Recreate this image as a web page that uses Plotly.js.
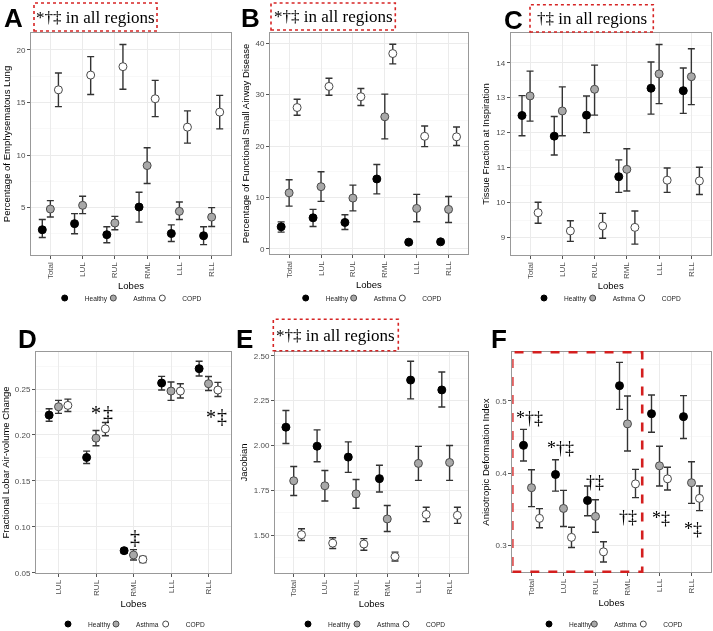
<!DOCTYPE html>
<html><head><meta charset="utf-8">
<script src="https://cdn.plot.ly/plotly-3.0.1.min.js"></script>
<style>html,body{margin:0;padding:0;background:#fff}#chart{width:713px;height:631px}#chart svg{will-change:transform}</style>
</head><body><div id="chart"></div>
<script>
// ---------- data ----------
const lobes6 = ['Total','LUL','RUL','RML','LLL','RLL'];
const lobes5 = ['LUL','RUL','RML','LLL','RLL'];
const groups = ['Healthy','Asthma','COPD'];

// A: Percentage of Emphysematous Lung
const emphH = [2.9, 3.48, 2.43, 5.06, 2.54, 2.33];
const emphHlo = [2.17, 2.52, 1.67, 3.62, 1.78, 1.49];
const emphHhi = [3.88, 4.43, 3.19, 6.46, 3.36, 3.19];
const emphA = [4.87, 5.22, 3.54, 9.0, 4.65, 4.1];
const emphAlo = [4.11, 4.43, 2.9, 7.3, 3.88, 3.21];
const emphAhi = [5.67, 6.08, 4.17, 10.7, 5.54, 5.0];
const emphC = [16.2, 17.6, 18.4, 15.35, 12.65, 14.08];
const emphClo = [14.6, 15.75, 16.25, 13.65, 11.13, 12.49];
const emphChi = [17.8, 19.35, 20.5, 17.1, 14.2, 15.67];

// B: Percentage of Functional Small Airway Disease
const fsadH = [4.29, 6.04, 5.14, 13.6, 1.3, 1.37];
const fsadHlo = [3.25, 4.36, 3.78, 10.7, 1.0, 1.07];
const fsadHhi = [5.26, 7.68, 6.63, 16.4, 1.6, 1.67];
const fsadA = [10.9, 12.1, 9.88, 25.7, 7.87, 7.68];
const fsadAlo = [8.32, 9.24, 7.4, 21.4, 5.27, 5.14];
const fsadAhi = [13.45, 15.0, 12.4, 30.1, 10.6, 10.2];
const fsadC = [27.5, 31.6, 29.6, 38.0, 21.9, 21.8];
const fsadClo = [26.0, 29.9, 27.9, 36.0, 19.9, 20.1];
const fsadChi = [29.1, 33.2, 31.2, 39.8, 23.9, 23.7];

// C: Tissue Fraction at Inspiration
const tfH = [12.49, 11.9, 12.5, 10.74, 13.27, 13.2];
const tfHlo = [11.91, 11.36, 12.0, 10.29, 12.53, 12.55];
const tfHhi = [13.06, 12.46, 13.05, 11.22, 14.02, 13.85];
const tfA = [13.05, 12.62, 13.24, 10.95, 13.68, 13.6];
const tfAlo = [12.33, 11.91, 12.5, 10.33, 12.83, 12.8];
const tfAhi = [13.76, 13.31, 13.93, 11.54, 14.52, 14.4];
const tfC = [9.71, 9.19, 9.33, 9.29, 10.64, 10.62];
const tfClo = [9.41, 8.89, 8.98, 8.81, 10.29, 10.23];
const tfChi = [10.01, 9.48, 9.69, 9.76, 10.99, 11.01];

// D: Fractional Lobar Air-volume Change
const flacH = [0.2216, 0.1755, 0.074, 0.2565, 0.2722];
const flacHlo = [0.215, 0.1689, 0.0711, 0.249, 0.2642];
const flacHhi = [0.2285, 0.1824, 0.0765, 0.2638, 0.2802];
const flacA = [0.2307, 0.1965, 0.0693, 0.2478, 0.2558];
const flacAlo = [0.2235, 0.1882, 0.0638, 0.2376, 0.2484];
const flacAhi = [0.2376, 0.2049, 0.0751, 0.2576, 0.2636];
const flacC = [0.2322, 0.2067, 0.0645, 0.2478, 0.2489];
const flacClo = [0.2256, 0.1991, 0.0611, 0.2402, 0.2419];
const flacChi = [0.239, 0.2136, 0.0676, 0.2558, 0.2572];

// E: Jacobian
const jacH = [2.102, 1.996, 1.935, 1.815, 2.365, 2.31];
const jacHlo = [2.011, 1.909, 1.85, 1.74, 2.26, 2.215];
const jacHhi = [2.195, 2.087, 2.02, 1.89, 2.47, 2.41];
const jacA = [1.803, 1.775, 1.73, 1.59, 1.9, 1.905];
const jacAlo = [1.721, 1.69, 1.65, 1.52, 1.805, 1.805];
const jacAhi = [1.883, 1.86, 1.81, 1.665, 1.995, 2.0];
const jacC = [1.502, 1.455, 1.45, 1.38, 1.615, 1.61];
const jacClo = [1.47, 1.425, 1.415, 1.355, 1.575, 1.565];
const jacChi = [1.535, 1.485, 1.48, 1.405, 1.655, 1.655];

// F: Anisotropic Deformation Index
const adiH = [0.4383, 0.398, 0.362, 0.5208, 0.482, 0.478];
const adiHlo = [0.4166, 0.375, 0.341, 0.488, 0.4563, 0.4478];
const adiHhi = [0.4604, 0.4184, 0.382, 0.553, 0.508, 0.507];
const adiA = [0.3797, 0.351, 0.340, 0.468, 0.41, 0.3866];
const adiAlo = [0.3535, 0.326, 0.318, 0.4304, 0.382, 0.358];
const adiAhi = [0.4045, 0.376, 0.363, 0.5065, 0.437, 0.4156];
const adiC = [0.3373, 0.311, 0.291, 0.385, 0.392, 0.365];
const adiClo = [0.3244, 0.297, 0.277, 0.366, 0.3765, 0.348];
const adiChi = [0.3507, 0.325, 0.305, 0.405, 0.408, 0.382];

const yTitles = ['Percentage of Emphysematous Lung','Percentage of Functional Small Airway Disease',
  'Tissue Fraction at Inspiration','Fractional Lobar Air-volume Change','Jacobian','Anisotropic Deformation Index'];

// ---------- build ----------
const W = 713, H = 631;
const markerStyle = {
  Healthy: {color:'#000', line:{color:'#000', width:1}},
  Asthma: {color:'#a8a8a8', line:{color:'#4a4a4a', width:1}},
  COPD: {color:'#fff', line:{color:'#4a4a4a', width:1}}
};
const dodge = {Healthy:-0.25, Asthma:0, COPD:0.25};
const legShift = [-7, -4, -1];

const panels = [
  {cats:lobes6, s:[[emphH,emphHlo,emphHhi],[emphA,emphAlo,emphAhi],[emphC,emphClo,emphChi]],
   px:[31,231,33,255], range:[0.5,21.6], dtick:5, minor:2.5, fmt:'', leg:[71.7,117.3,163.3], legY:298},
  {cats:lobes6, s:[[fsadH,fsadHlo,fsadHhi],[fsadA,fsadAlo,fsadAhi],[fsadC,fsadClo,fsadChi]],
   px:[270,467.7,33,254], range:[-1.0,42.0], dtick:10, minor:5, fmt:'', leg:[312.7,357.7,403.3], legY:298},
  {cats:lobes6, s:[[tfH,tfHlo,tfHhi],[tfA,tfAlo,tfAhi],[tfC,tfClo,tfChi]],
   px:[510.7,710.7,33,255], range:[8.5,14.85], dtick:1, minor:0.5, fmt:'', leg:[551,596.7,642.7], legY:298},
  {cats:lobes5, s:[[flacH,flacHlo,flacHhi],[flacA,flacAlo,flacAhi],[flacC,flacClo,flacChi]],
   px:[36,231,352.3,572.7], range:[0.05,0.29], dtick:0.05, minor:0.025, fmt:'.2f', leg:[75,120,166.7], legY:624},
  {cats:lobes6, s:[[jacH,jacHlo,jacHhi],[jacA,jacAlo,jacAhi],[jacC,jacClo,jacChi]],
   px:[275,468.3,352.3,572.7], range:[1.29,2.52], dtick:0.25, minor:0.125, fmt:'.2f', leg:[315,361,407], legY:624},
  {cats:lobes6, s:[[adiH,adiHlo,adiHhi],[adiA,adiAlo,adiAhi],[adiC,adiClo,adiChi]],
   px:[512.3,710.7,352.3,571.7], range:[0.2635,0.567], dtick:0.1, minor:0.05, fmt:'.1f', leg:[556,598.3,644.3], legY:624}
];

const traces = [];
const layout = {
  width:W, height:H, margin:{l:0,r:0,t:0,b:0,autoexpand:false}, paper_bgcolor:'#fff', plot_bgcolor:'#fff',
  font:{family:'Liberation Sans, Arial, sans-serif', color:'#000'},
  annotations:[], shapes:[]
};

let legCount = 0;
panels.forEach((p, k) => {
  const n = k + 1;
  const xs = n === 1 ? 'x' : 'x' + n, ys = n === 1 ? 'y' : 'y' + n;
  groups.forEach((g, gi) => {
    const [v, lo, hi] = p.s[gi];
    traces.push({
      type:'scatter', mode:'markers', name:g, xaxis:xs, yaxis:ys, showlegend:false,
      x: p.cats.map((c, i) => i + dodge[g]), y: v,
      marker: Object.assign({size:8, symbol:'circle'}, markerStyle[g]),
      error_y: {type:'data', symmetric:false, array: hi.map((h, i) => h - v[i]),
                arrayminus: lo.map((l, i) => v[i] - l), color:'#333', thickness:1.4, width:3.5},
      hoverinfo:'skip'
    });
    // legend key (no data drawn)
    legCount++;
    const legName = legCount === 1 ? 'legend' : 'legend' + legCount;
    traces.push({
      type:'scatter', mode:'markers', name:g, xaxis:xs, yaxis:ys, legend:legName, showlegend:true,
      x:[null], y:[null], marker: Object.assign({size:6, symbol:'circle'}, markerStyle[g]), hoverinfo:'skip'
    });
    layout[legName] = {
      x:(p.leg[gi] + legShift[gi] - 20) / W, xanchor:'left', y:1 - p.legY / H, yanchor:'middle',
      font:{size:6.6, color:'#222'}, itemwidth:30, bgcolor:'rgba(0,0,0,0)', borderwidth:0
    };
  });
  const [x0, x1, y0, y1] = p.px;
  layout['xaxis' + (n === 1 ? '' : n)] = {
    domain:[x0 / W, x1 / W], anchor: ys, range:[-0.6, p.cats.length - 0.4],
    tickmode:'array', tickvals: p.cats.map((c, i) => i), ticktext: p.cats, tickangle:-90,
    tickfont:{size:8, color:'#4d4d4d'}, ticks:'outside', ticklen:3, tickcolor:'#555',
    showgrid:true, gridcolor:'#ebebeb', gridwidth:1, zeroline:false,
    showline:true, mirror:true, linecolor:'#999', linewidth:1,
    title:{text:'Lobes', font:{size:9.5, color:'#000'}, standoff:4}
  };
  layout['yaxis' + (n === 1 ? '' : n)] = {
    domain:[1 - y1 / H, 1 - y0 / H], anchor: xs, range:p.range,
    tick0:0, dtick:p.dtick, tickformat:p.fmt,
    tickfont:{size:8, color:'#4d4d4d'}, ticks:'outside', ticklen:3, tickcolor:'#555',
    showgrid:true, gridcolor:'#ebebeb', gridwidth:1, zeroline:false,
    minor:{dtick:p.minor, tick0:0, showgrid:true, gridcolor:'#f4f4f4', gridwidth:0.6, ticks:''},
    showline:true, mirror:true, linecolor:'#999', linewidth:1,
    title:{text:yTitles[k], font:{size:9.5, color:'#000'}, standoff:4}
  };
});

// panel letters
const letters = [['A',3,29],['B',240,29],['C',503,31],['D',17,350],['E',235,350],['F',490,350]];
letters.forEach(([t, x, yb]) => layout.annotations.push({
  text:t, xref:'paper', yref:'paper', x:x / W, y:1 - yb / H, xanchor:'left', yanchor:'bottom',
  showarrow:false, font:{size:26, family:'Liberation Sans, Arial', color:'#000', weight:'bold'},
  borderpad:0, yshift:-5
}));

// dashed "in all regions" boxes
const boxes = [['*†‡ in all regions',34,157,3,31],['*†‡ in all regions',271,395.3,3,30],
               ['†‡ in all regions',530,653.3,4.7,32],['*†‡ in all regions',273.3,398.3,319.3,350.7]];
boxes.forEach(([t, x0, x1, y0, y1]) => {
  layout.shapes.push({type:'rect', xref:'paper', yref:'paper', x0:x0 / W, x1:x1 / W,
    y0:1 - y1 / H, y1:1 - y0 / H, line:{color:'#d62424', width:1.6, dash:'dot'}});
  layout.annotations.push({text:t, xref:'paper', yref:'paper', x:(x0 + x1) / 2 / W,
    y:1 - (y0 + y1) / 2 / H, xanchor:'center', yanchor:'middle', showarrow:false,
    font:{size:17, family:'Liberation Serif, Times New Roman, serif', color:'#000'}});
});

// significance marks
const serif = 'Liberation Serif, Times New Roman, serif';
const sig = (t, xr, yr, x, y, s) => layout.annotations.push({text:t, xref:xr, yref:yr, x:x, y:y,
  showarrow:false, xanchor:'center', yanchor:'middle', yshift:-5, font:{size:s, family:serif, color:'#000'}});
sig('*', 'x4', 'y4', 1.0, 0.2293, 20);
sig('‡', 'x4', 'y4', 1.32, 0.2296, 20);
sig('‡', 'x4', 'y4', 2.03, 0.0948, 20);
sig('*', 'x4', 'y4', 4.07, 0.2255, 20);
sig('‡', 'x4', 'y4', 4.35, 0.2263, 20);
sig('*†‡', 'x6', 'y6', -0.06, 0.4826, 18);
sig('*†‡', 'x6', 'y6', 0.9, 0.441, 18);
sig('†‡', 'x6', 'y6', 1.97, 0.394, 18);
sig('†‡', 'x6', 'y6', 3.0, 0.3465, 18);
sig('*‡', 'x6', 'y6', 4.06, 0.3447, 18);
sig('*‡', 'x6', 'y6', 5.05, 0.3295, 18);

// red dashed region in F
layout.shapes.push({type:'rect', xref:'x6', yref:'y6 domain', x0:-0.6, x1:3.46, y0:0, y1:1,
  line:{color:'#d41f1f', width:2.6, dash:'dash'}});

Plotly.newPlot('chart', traces, layout, {staticPlot:true});
</script></body></html>
